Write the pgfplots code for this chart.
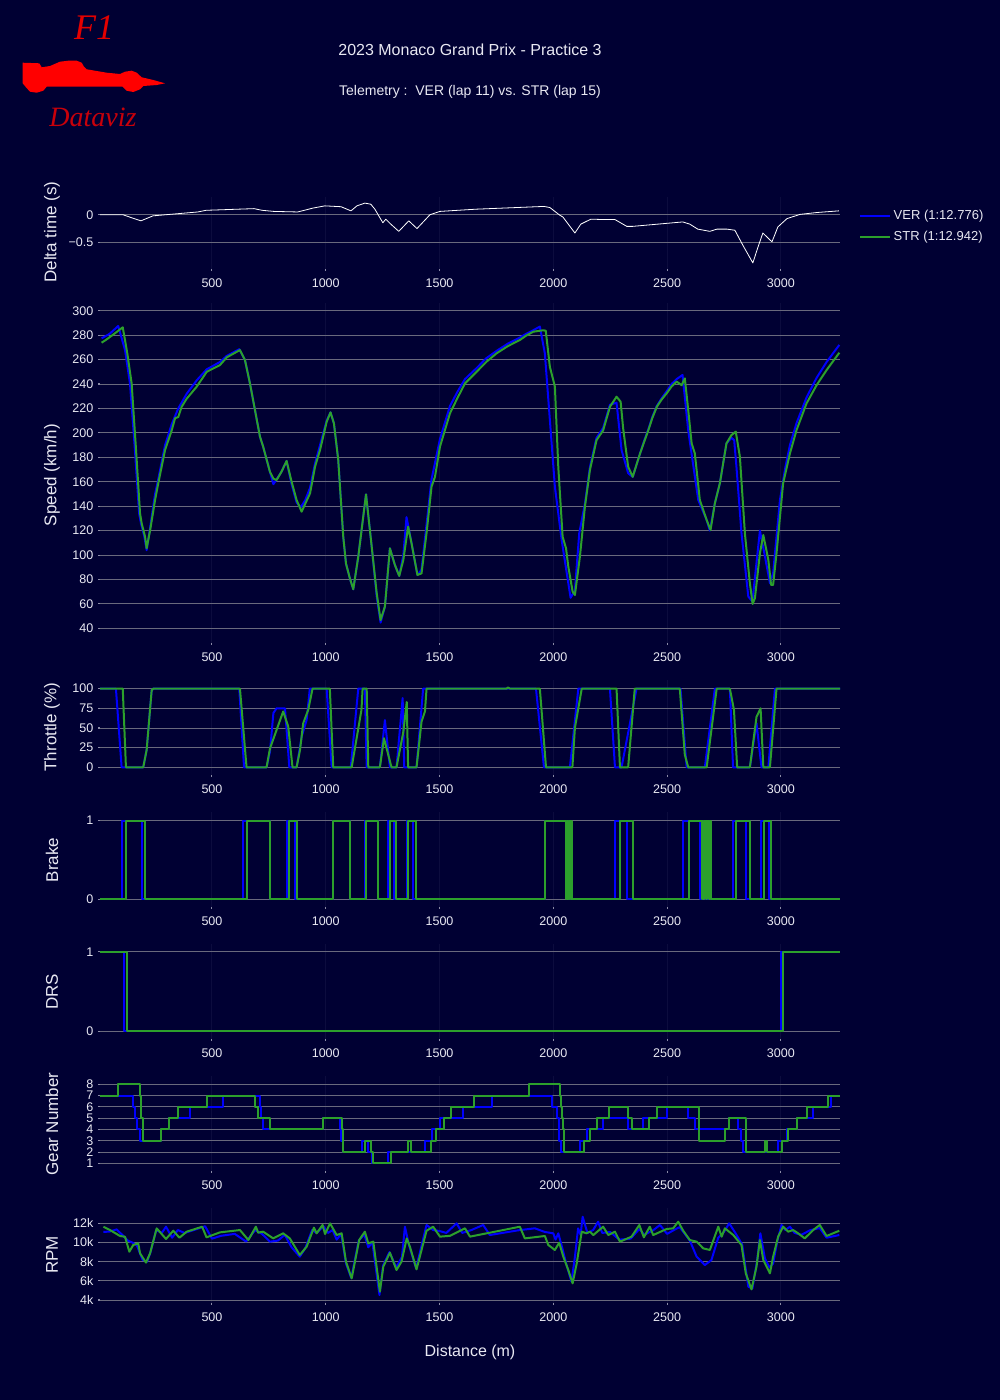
\documentclass[border=0pt]{standalone}
\usepackage{fontspec}
\setmainfont{Liberation Sans}
\newfontfamily\logofont{Liberation Serif}
\usepackage{pgfplots}
\pgfplotsset{compat=1.18}
\definecolor{bg}{RGB}{0,0,51}
\definecolor{gridc}{RGB}{105,105,125}
\definecolor{vgrid}{RGB}{12,12,62}
\definecolor{ver}{RGB}{0,0,255}
\definecolor{strc}{RGB}{44,160,44}
\definecolor{txt}{RGB}{232,232,242}
\definecolor{f1red}{RGB}{228,0,0}
\definecolor{dvred}{RGB}{200,0,10}
\pgfplotsset{
  panel/.style={
    scale only axis, width=555pt, anchor=north west,
    xmin=8, xmax=3260,
    axis line style={draw=none},
    xtick={500,1000,1500,2000,2500,3000},
    tick pos=left,
    tick align=outside, major tick length=1.5pt,
    tick style={color=txt!60!bg, line width=0.8pt},
    ymajorgrids, xmajorgrids,
    y grid style={gridc, line width=0.7pt},
    x grid style={vgrid, line width=0.7pt},
    ticklabel style={font=\fontsize{9.4}{11}\selectfont, text=txt},
    xticklabel style={yshift=-2.5pt},
    /pgf/number format/assume math mode=true,
    /pgf/number format/1000 sep={},
    scaled ticks=false,
    every axis plot/.append style={line join=round},
  },
  verl/.style={ver, line width=1.5pt},
  strl/.style={strc, line width=1.5pt},
}
\begin{document}
\begin{tikzpicture}
\fill[bg] (0,0) rectangle (750pt,-1050pt);
\begin{scope}[x=0.75pt,y=-0.75pt]
  % logo
  \node[text=f1red, font=\logofont\itshape\fontsize{27}{30}\selectfont] at (94,28) {F1};
  \node[text=dvred, font=\logofont\itshape\fontsize{21}{24}\selectfont] at (93,117) {Dataviz};
  \fill[red] (22.7,62.7) -- (39.3,63.3) -- (41.7,67.3) -- (50,66) -- (60,61.7) -- (68.3,60.7) -- (76.7,60.7) -- (81.7,62.7) -- (84,66.7) -- (86.7,69.3) -- (106.7,72.7) -- (120,74) -- (125,71.7) -- (131.7,70.7) -- (136.7,72.7) -- (141.7,77.3) -- (153.3,80) -- (165,83.3) -- (156.7,85) -- (143.3,86) -- (140,89.3) -- (133.3,92) -- (126.7,90.7) -- (122.7,86.7) -- (46.7,86.7) -- (43.3,90.7) -- (36.7,92.7) -- (30,91.7) -- (26,87.3) -- (22.7,83.3) -- cycle;
  % titles
  \node[text=txt, font=\fontsize{12}{14}\selectfont] at (470,50) {2023 Monaco Grand Prix - Practice 3};
  \node[text=txt, font=\fontsize{10.5}{12}\selectfont] at (470,92) {Telemetry :\ \ VER (lap 11) vs. STR (lap 15)};
  \node[text=txt, font=\fontsize{12}{14}\selectfont] at (470,1352) {Distance (m)};
  \begin{scope}[every node/.style={text=txt, font=\fontsize{12.75}{14}\selectfont, rotate=90}]
    \node at (52,232) {Delta time (s)};
    \node at (52,475) {Speed (km/h)};
    \node at (52,727) {Throttle (\%)};
    \node at (52,860) {Brake};
    \node at (52,992) {DRS};
    \node at (52,1124) {Gear Number};
    \node at (52,1255) {RPM};
  \end{scope}
\end{scope}

% ---------------- Delta
\begin{axis}[panel, at={(75pt,-147.75pt)}, height=54pt,
  ymin=-0.98, ymax=0.32, ytick={-0.5,0}, yticklabels={−0.5,0},
  legend style={at={(1.02,0.89)}, anchor=north west, draw=none, fill=none,
    text=txt, font=\fontsize{9.75}{11}\selectfont, row sep=3pt},
  legend cell align=left,
  legend image code/.code={\draw[#1] (0pt,0pt) -- (22.5pt,0pt);}]
\addplot[white, line width=0.6pt, forget plot] coordinates {
(8,0)(109,0)(144,-0.05)(188,-0.11)(241,-0.02)(438,0.05)(474,0.08)(685,0.11)(720,0.08)(772,0.06)(877,0.05)(944,0.12)(996,0.16)(1067,0.145)(1111,0.07)(1137,0.16)(1172,0.21)(1198,0.19)(1216,0.10)(1251,-0.145)(1264,-0.08)(1286,-0.17)(1321,-0.30)(1365,-0.11)(1401,-0.25)(1458,0)(1502,0.06)(1660,0.10)(1959,0.15)(1985,0.13)(2029,-0.01)(2042,-0.04)(2095,-0.33)(2121,-0.17)(2165,-0.08)(2205,-0.085)(2270,-0.085)(2323,-0.21)(2349,-0.21)(2569,-0.13)(2600,-0.17)(2635,-0.26)(2688,-0.30)(2719,-0.26)(2763,-0.26)(2798,-0.28)(2833,-0.55)(2877,-0.87)(2899,-0.59)(2921,-0.33)(2961,-0.49)(2987,-0.22)(3027,-0.07)(3084,0.006)(3158,0.04)(3255,0.07)};
\addlegendimage{verl}\addlegendentry{VER (1:12.776)}
\addlegendimage{strl}\addlegendentry{STR (1:12.942)}
\end{axis}

% ---------------- Speed
\begin{axis}[panel, at={(75pt,-227.25pt)}, height=255pt,
  ymin=28, ymax=306.3, ytick={40,60,...,300}]
\addplot[verl] coordinates {
(15,277.4)(50,281)(88,287.5)(118,267.8)(140,240)(160,190)(180,134)(188,126)(203,115)(213,104)(228,122)(250,150)(264,162)(294,190)(323,207)(352,220)(389,232)(433,243)(477,252)(535,258)(565,263)(620,268.5)(645,259.6)(667,240.5)(689,218.7)(711,196.9)(725,188.7)(755,168)(770,158)(784,162)(805,168)(828,177)(850,158)(872,143)(890,139)(910,145)(931,155)(953,175)(975,190)(1004,210)(1021,216.8)(1036,207.8)(1055,177.8)(1077,115)(1089,93)(1106,81)(1121,72)(1143,98.7)(1177,149.7)(1202,106.9)(1224,66)(1241,44.7)(1260,57.8)(1282,105.5)(1304,91.8)(1323,82.9)(1341,100)(1355,131)(1377,110)(1403,83.7)(1421,88)(1443,125)(1465,162)(1502,195)(1546,222)(1580,234)(1612,244)(1663,253)(1705,261)(1750,267)(1800,273)(1853,278)(1880,281)(1912,284)(1941,287)(1963,265)(1985,210.5)(2007,156)(2037,112)(2076,65)(2095,71)(2114,117.8)(2139,142)(2161,172)(2190,196)(2219,204)(2249,223)(2278,224.7)(2300,186)(2329,167)(2349,164)(2381,183)(2400,194)(2418,203)(2435,213)(2455,222)(2475,228)(2498,234)(2520,240)(2542,244)(2568,247.4)(2593,202)(2637,145)(2674,128.7)(2688,120)(2710,142.3)(2732,158.7)(2761,191.4)(2783,196)(2795,194)(2805,172)(2827,118)(2857,66)(2875,62)(2908,120)(2930,99)(2952,77)(2966,85)(2996,145)(3020,172)(3040,190)(3069,208)(3113,229)(3157,245)(3201,258)(3257,272)};
\addplot[strl] coordinates {
(15,273.8)(37,276.5)(70,281)(108,286.4)(128,265)(147,240.5)(165,190)(184,134)(191,126)(206,115)(213,105.5)(228,120)(250,145)(264,158.7)(294,186)(323,202)(338,212)(352,213)(367,221.4)(389,228)(433,237.8)(477,250)(535,255.5)(565,261.8)(623,267.8)(645,259.6)(667,240.5)(689,218.7)(711,196.9)(725,188.7)(755,168)(770,162.5)(784,161.4)(805,168)(828,177)(850,160)(872,145)(894,135.5)(910,142)(931,150.5)(953,172.3)(975,186)(1004,209)(1021,216.8)(1036,207.8)(1055,177.8)(1077,115)(1089,93)(1106,81)(1121,72)(1143,98.7)(1177,149.7)(1202,106.9)(1224,68.7)(1241,46.8)(1260,57.8)(1282,105.5)(1304,91.8)(1323,82.9)(1341,96)(1362,123.2)(1377,109.6)(1403,83.7)(1421,85)(1443,117.8)(1465,156)(1480,164)(1502,188.7)(1546,216)(1580,229)(1612,240.5)(1663,250)(1705,258)(1750,265)(1800,271)(1853,276)(1880,279.5)(1912,282.8)(1956,284)(1967,283.6)(1985,254)(2007,238)(2022,172)(2041,115)(2056,105.5)(2066,90.5)(2085,70)(2095,67.3)(2117,98.7)(2139,139.6)(2161,169.6)(2190,194)(2219,202)(2249,221.4)(2278,229.6)(2296,225.5)(2307,203.7)(2329,172.3)(2349,164)(2381,183)(2400,193)(2418,202.3)(2435,212)(2455,221.4)(2475,227)(2498,232.3)(2520,238)(2542,242)(2564,239)(2578,244.6)(2593,218.7)(2608,191.4)(2622,183.2)(2644,145)(2674,128.7)(2691,120.5)(2710,142.3)(2732,158.7)(2761,191.4)(2783,198.2)(2802,201)(2820,180.5)(2842,117.8)(2864,76.8)(2876,60)(2886,64.6)(2908,101.4)(2923,116.4)(2945,96)(2957,75.5)(2966,75.5)(2981,101.4)(3010,158.7)(3040,183.2)(3069,202.3)(3113,224.2)(3157,239)(3201,251.4)(3257,265.6)};
\end{axis}

% ---------------- Throttle
\begin{axis}[panel, at={(75pt,-510pt)}, height=71.25pt,
  ymin=-9.8, ymax=111, ytick={0,25,50,75,100}]
\addplot[verl] coordinates {
(8,100)(78,100)(103,0)(198,0)(213,22)(235,98)(242,100)(620,100)(641,0)(740,0)(755,20)(770,69)(784,75)(821,75)(840,0)(872,0)(895,40)(916,60)(930,100)(1004,100)(1026,0)(1110,0)(1143,100)(1172,100)(1180,0)(1238,0)(1260,60)(1282,0)(1311,0)(1338,88)(1345,0)(1399,0)(1428,100)(1924,100)(1959,0)(2073,0)(2110,100)(2249,100)(2271,0)(2300,0)(2366,100)(2559,100)(2586,0)(2666,0)(2710,100)(2776,100)(2790,0)(2864,0)(2893,56)(2915,0)(2945,0)(2974,100)(3260,100)};
\addplot[strl] coordinates {
(8,100)(108,100)(122,0)(198,0)(213,22)(235,98)(242,100)(623,100)(652,0)(740,0)(755,24)(813,71)(835,52)(854,0)(872,0)(887,22)(901,56)(923,73)(942,100)(1018,100)(1033,0)(1114,0)(1157,73)(1162,100)(1180,100)(1187,0)(1238,0)(1256,37)(1289,0)(1311,0)(1341,45)(1356,83)(1362,0)(1399,0)(1421,58)(1436,71)(1443,100)(1795,100)(1800,101.5)(1810,100)(1941,100)(1968,0)(2084,0)(2095,50)(2125,100)(2278,100)(2293,0)(2329,0)(2358,100)(2556,100)(2578,16)(2593,0)(2674,0)(2718,100)(2776,100)(2794,73)(2808,0)(2864,0)(2893,64)(2911,75)(2923,0)(2952,0)(2981,100)(3260,100)};
\end{axis}

% ---------------- Brake
\begin{axis}[panel, at={(75pt,-609pt)}, height=71.25pt,
  ymin=-0.098, ymax=1.11, ytick={0,1}]
\addplot[verl, const plot] coordinates {
(8,0)(106,1)(191,0)(638,1)(755,0)(831,1)(865,0)(1030,1)(1106,0)(1172,1)(1231,0)(1275,1)(1300,0)(1355,1)(1385,0)(1962,1)(2073,0)(2271,1)(2322,0)(2568,1)(2645,0)(2660,1)(2665,0)(2680,1)(2684,0)(2788,1)(2849,0)(2911,1)(2949,0)(3260,0)};
\addplot[strl, const plot] coordinates {
(8,0)(122,1)(206,0)(652,1)(755,0)(840,1)(875,0)(1033,1)(1106,0)(1177,1)(1231,0)(1282,1)(1308,0)(1362,1)(1396,0)(1965,1)(2058,0)(2061,1)(2065,0)(2068,1)(2072,0)(2075,1)(2079,0)(2082,1)(2084,0)(2293,1)(2349,0)(2597,1)(2652,0)(2655,1)(2660,0)(2664,1)(2672,0)(2676,1)(2684,0)(2687,1)(2693,0)(2803,1)(2864,0)(2926,1)(2956,0)(3260,0)};
\end{axis}

% ---------------- DRS
\begin{axis}[panel, at={(75pt,-708pt)}, height=71.25pt,
  ymin=-0.10, ymax=1.10, ytick={0,1}]
\addplot[verl, const plot] coordinates {(8,1)(113,0)(2999,1)(3260,1)};
\addplot[strl, const plot] coordinates {(8,1)(126,0)(3011,1)(3260,1)};
\end{axis}

% ---------------- Gear
\begin{axis}[panel, at={(75pt,-807pt)}, height=71.25pt,
  ymin=0.32, ymax=8.74, ytick={1,...,8}]
\addplot[verl, const plot] coordinates {
(8,7)(155,6)(163,5)(172,4)(184,3)(275,4)(313,5)(404,6)(547,7)(711,6)(717,5)(723,4)(989,5)(1062,4)(1068,3)(1074,2)(1158,3)(1187,2)(1202,1)(1275,2)(1436,3)(1465,4)(1502,5)(1604,6)(1729,7)(1993,6)(2015,5)(2025,3)(2032,2)(2117,3)(2146,4)(2219,5)(2327,4)(2395,5)(2498,6)(2593,5)(2622,4)(2773,5)(2810,4)(2825,3)(2835,2)(2988,3)(3025,4)(3069,5)(3142,6)(3222,7)(3260,7)};
\addplot[strl, const plot] coordinates {
(8,7)(86,8)(184,7)(189,5)(195,3)(275,4)(313,5)(352,6)(477,7)(689,6)(704,5)(755,4)(986,5)(1070,4)(1074,3)(1077,2)(1172,3)(1197,2)(1209,1)(1285,2)(1362,3)(1373,2)(1461,3)(1484,4)(1519,5)(1549,6)(1653,7)(1894,8)(2029,7)(2034,6)(2039,5)(2044,4)(2047,2)(2134,3)(2161,4)(2190,5)(2246,6)(2327,5)(2348,4)(2421,5)(2457,6)(2641,3)(2754,4)(2773,5)(2846,2)(2930,3)(2940,2)(3003,3)(3032,4)(3072,5)(3113,6)(3208,7)(3260,7)};
\end{axis}

% ---------------- RPM
\begin{axis}[panel, at={(75pt,-906pt)}, height=71.25pt,
  ymin=3687, ymax=13600, ytick={4000,6000,8000,10000,12000},
  yticklabels={4k,6k,8k,10k,12k}]
\addplot[verl] coordinates {
(23,11100)(52,11150)(81,11370)(110,10700)(130,10200)(150,10000)(170,9700)(195,8200)(215,8000)(230,9000)(255,11300)(280,11000)(298,11650)(325,10500)(350,11300)(380,11000)(420,11300)(470,11700)(500,10400)(540,10700)(600,10900)(650,10100)(690,11300)(720,10900)(755,10090)(790,10200)(820,10800)(850,9500)(886,8520)(910,9400)(940,11300)(960,11000)(990,11700)(1010,11000)(1030,11300)(1048,10300)(1068,10900)(1089,7800)(1112,6300)(1145,10200)(1170,10800)(1187,9500)(1205,10000)(1236,4520)(1252,7600)(1280,9000)(1310,7400)(1335,8500)(1348,11650)(1365,9800)(1397,7300)(1443,11830)(1472,11300)(1500,11200)(1530,11000)(1575,12000)(1600,11000)(1640,11300)(1692,11830)(1721,10780)(1853,11300)(1919,11480)(1963,11100)(2000,10960)(2010,10300)(2022,10960)(2040,9400)(2060,7500)(2080,5910)(2095,8500)(2109,11480)(2120,10800)(2129,12690)(2150,11000)(2175,11300)(2197,12170)(2215,11000)(2250,11100)(2290,10300)(2340,10400)(2378,11400)(2400,10800)(2440,11300)(2469,11830)(2500,10900)(2530,11300)(2555,11600)(2575,11000)(2600,10200)(2630,8520)(2666,7650)(2695,8170)(2725,10500)(2750,11100)(2773,12000)(2800,11000)(2830,9800)(2857,5390)(2875,5200)(2895,8000)(2910,10960)(2930,8350)(2950,7400)(2966,7800)(2985,10200)(3003,11830)(3020,11300)(3040,11650)(3060,11000)(3090,10800)(3130,11300)(3171,11500)(3201,10500)(3257,10780)};
\addplot[strl] coordinates {
(23,11650)(52,11300)(96,10680)(118,10600)(137,9040)(154,9740)(176,9910)(184,8870)(210,7900)(228,8870)(257,11480)(298,10370)(330,11230)(357,10500)(389,11130)(457,11650)(476,10540)(535,11060)(623,11300)(660,10260)(693,11650)(703,11030)(725,11130)(769,10430)(813,10960)(842,10430)(886,8700)(916,9560)(948,11550)(960,10960)(986,11830)(997,10890)(1019,12000)(1048,10780)(1070,10960)(1089,8000)(1114,6260)(1147,10260)(1172,11130)(1187,9910)(1209,10090)(1238,4870)(1253,7480)(1282,8940)(1311,7130)(1333,8000)(1356,10430)(1370,9560)(1399,7200)(1443,11230)(1472,11650)(1502,10610)(1546,10700)(1612,11480)(1634,10610)(1853,11650)(1875,10430)(1963,10680)(1978,9740)(2007,9220)(2026,9980)(2044,8520)(2066,7130)(2085,5740)(2103,7830)(2125,11130)(2146,10960)(2161,11130)(2176,10780)(2219,11650)(2242,10780)(2271,11130)(2293,10090)(2344,10610)(2378,11830)(2398,10540)(2424,11650)(2439,10780)(2498,11410)(2527,11480)(2549,12170)(2571,11230)(2600,10260)(2630,10090)(2659,9390)(2688,9220)(2725,11650)(2740,10610)(2754,11480)(2791,10780)(2827,9740)(2846,6780)(2871,5110)(2893,7480)(2908,10260)(2923,8170)(2952,6780)(2966,8520)(2988,10610)(3010,11650)(3032,11130)(3054,11300)(3076,10960)(3105,10430)(3142,11300)(3171,11830)(3201,10680)(3257,11230)};
\end{axis}
\pgfresetboundingbox
\useasboundingbox (0,0) rectangle (750pt,-1050pt);
\end{tikzpicture}
\end{document}
